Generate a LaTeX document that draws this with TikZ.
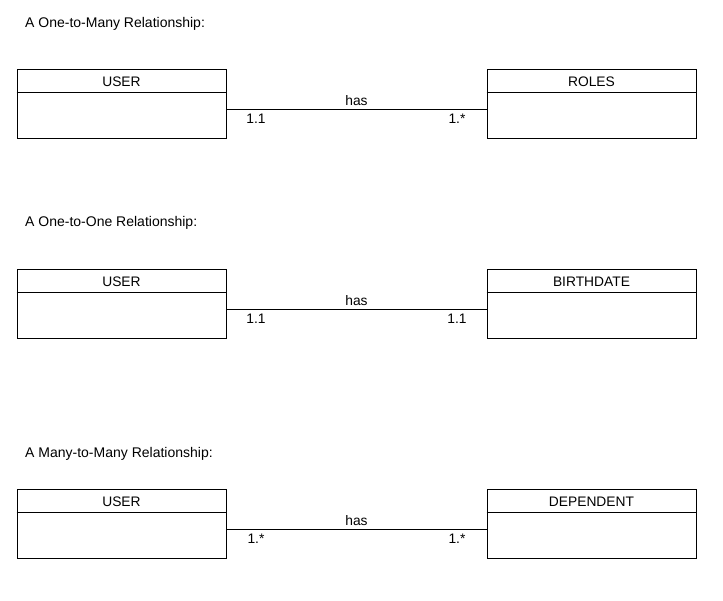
\documentclass[tikz,border=0pt]{standalone}
\usepackage{fontspec}
\setmainfont{Liberation Sans}
\begin{document}
\begin{tikzpicture}[x=1pt,y=-1pt,
  entity/.style={draw,line width=0.9pt,minimum width=209pt,minimum height=69pt,inner sep=0pt},
  etitle/.style={inner sep=0pt,font=\fontsize{13.8}{15}\selectfont},
  lbl/.style={inner sep=0pt,font=\fontsize{13.8}{15}\selectfont},
  heading/.style={anchor=west,inner sep=0pt,font=\fontsize{14}{15}\selectfont},
  rel/.style={line width=0.9pt}]
\useasboundingbox (0,0) rectangle (723,601);
% group 1
\node[heading] (h1) at (25,23.5) {A One-to-Many Relationship:};
\node[entity] (u1) at (121.5,103.5) {};
\node[etitle] (u1t) at ([yshift=-13pt]u1.north) {USER};
\draw[rel] ([yshift=-23.5pt]u1.north west) -- ([yshift=-23.5pt]u1.north east);
\node[entity] (r1) at (591.5,103.5) {};
\node[etitle] (r1t) at ([yshift=-13pt]r1.north) {ROLES};
\draw[rel] ([yshift=-23.5pt]r1.north west) -- ([yshift=-23.5pt]r1.north east);
\draw[rel] ([yshift=-5.5pt]u1.east) -- node[lbl,above=2.5pt] {has} ([yshift=-5.5pt]r1.west);
\node[lbl] at (256,119) {1.1};
\node[lbl] at (457,119) {1.*};
% group 2
\node[heading] (h2) at (25,222.5) {A One-to-One Relationship:};
\node[entity] (u2) at (121.5,303.5) {};
\node[etitle] (u2t) at ([yshift=-13pt]u2.north) {USER};
\draw[rel] ([yshift=-23.5pt]u2.north west) -- ([yshift=-23.5pt]u2.north east);
\node[entity] (b2) at (591.5,303.5) {};
\node[etitle] (b2t) at ([yshift=-13pt]b2.north) {BIRTHDATE};
\draw[rel] ([yshift=-23.5pt]b2.north west) -- ([yshift=-23.5pt]b2.north east);
\draw[rel] ([yshift=-5.5pt]u2.east) -- node[lbl,above=2.5pt] {has} ([yshift=-5.5pt]b2.west);
\node[lbl] at (256,319) {1.1};
\node[lbl] at (457,319) {1.1};
% group 3
\node[heading] (h3) at (25,453.5) {A Many-to-Many Relationship:};
\node[entity] (u3) at (121.5,523.5) {};
\node[etitle] (u3t) at ([yshift=-13pt]u3.north) {USER};
\draw[rel] ([yshift=-23.5pt]u3.north west) -- ([yshift=-23.5pt]u3.north east);
\node[entity] (d3) at (591.5,523.5) {};
\node[etitle] (d3t) at ([yshift=-13pt]d3.north) {DEPENDENT};
\draw[rel] ([yshift=-23.5pt]d3.north west) -- ([yshift=-23.5pt]d3.north east);
\draw[rel] ([yshift=-5.5pt]u3.east) -- node[lbl,above=2.5pt] {has} ([yshift=-5.5pt]d3.west);
\node[lbl] at (256,539) {1.*};
\node[lbl] at (457,539) {1.*};
\end{tikzpicture}
\end{document}
